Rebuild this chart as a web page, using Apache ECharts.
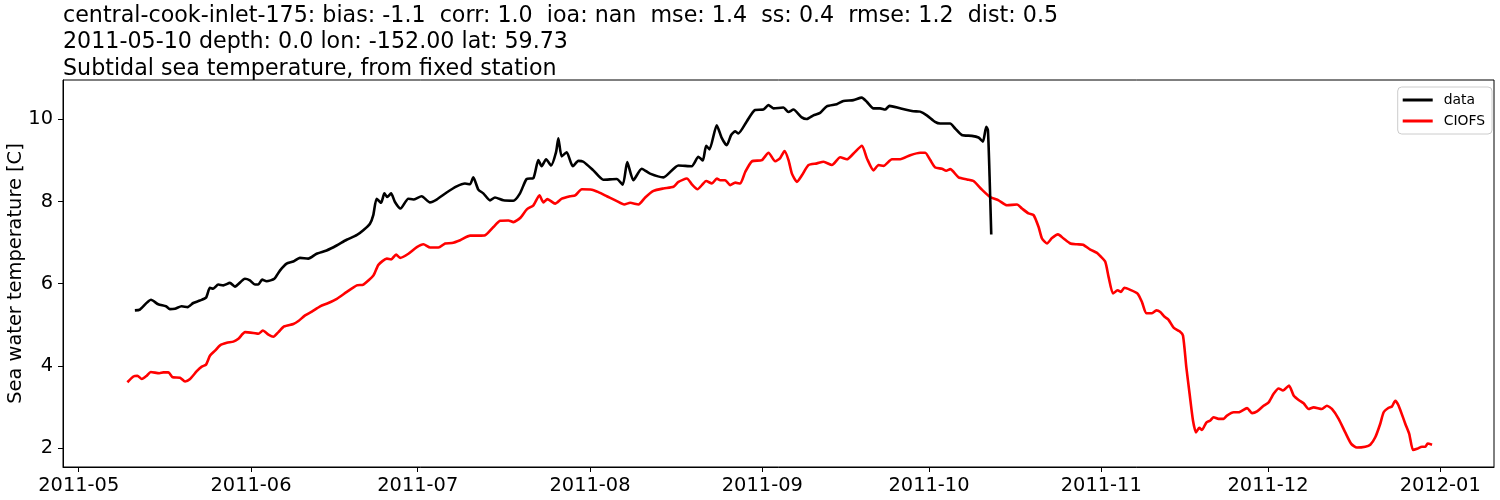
<!DOCTYPE html>
<html>
<head>
<meta charset="utf-8">
<script src="https://cdn.jsdelivr.net/npm/echarts@6/dist/echarts.min.js"></script>
<style>
  html, body { margin: 0; padding: 0; background: #fff; }
  #chart { width: 1500px; height: 500px; }
</style>
</head>
<body>
<div id="chart"></div>
<script>
// ---- Data (days since 2011-05-01 UTC, temperature in °C) ----
const baseDate = '2011-05-01';

const dataDays = [10.1, 11.0, 13.0, 14.3, 15.7, 16.4, 17.3, 18.5, 19.6, 20.6, 21.8, 22.9, 23.6, 24.2, 25.1, 26.0, 27.2, 28.1, 29.9, 30.8,
  31.7, 32.3, 33.0, 33.8, 35.2, 36.2, 37.4, 38.6, 39.8, 41.3, 42.8, 44.6, 46.4, 48.2, 50.0, 51.2, 52.4, 53.0, 53.6, 54.4,
  55.0, 55.5, 56.2, 56.9, 57.9, 59.3, 60.2, 61.7, 63.2, 64.4, 66.2, 68.0, 69.5, 70.4, 71.0, 71.9, 72.8, 74.0, 74.9, 76.4,
  78.2, 79.4, 80.6, 81.8, 82.7, 83.3, 84.1, 85.0, 85.9, 86.3, 86.9, 87.8, 88.9, 89.9, 90.8, 92.6, 94.4, 96.8, 97.9, 98.7,
  99.8, 101.3, 102.8, 105.2, 107.9, 110.3, 111.5, 112.3, 112.9, 113.5, 114.8, 115.7, 116.6, 117.4, 118.1, 118.7, 120.2, 121.7, 123.2, 124.1,
  125.0, 126.8, 127.7, 128.6, 130.1, 131.0, 132.2, 133.4, 134.6, 136.4, 137.6, 139.4, 140.9, 141.8, 143.0, 144.2, 145.1, 145.9, 147.8, 150.2,
  151.4, 152.6, 154.1, 155.0, 156.8, 157.7, 158.9, 160.7, 161.9, 162.7, 163.3, 163.6, 163.9, 164.2];
const dataTemp = [5.35, 5.37, 5.61, 5.50, 5.45, 5.38, 5.39, 5.45, 5.43, 5.53, 5.59, 5.66, 5.90, 5.88, 5.98, 5.96, 6.02, 5.93, 6.12, 6.08,
  5.98, 5.98, 6.10, 6.06, 6.12, 6.32, 6.49, 6.54, 6.63, 6.61, 6.73, 6.81, 6.93, 7.07, 7.18, 7.30, 7.46, 7.67, 8.07, 7.97,
  8.20, 8.11, 8.20, 7.99, 7.83, 8.07, 8.05, 8.13, 7.98, 8.05, 8.22, 8.37, 8.44, 8.42, 8.59, 8.29, 8.20, 8.03, 8.10, 8.03,
  8.02, 8.20, 8.55, 8.57, 9.01, 8.86, 9.03, 8.88, 9.21, 9.54, 9.10, 9.20, 8.86, 8.99, 8.97, 8.76, 8.53, 8.55, 8.41, 8.96,
  8.52, 8.80, 8.68, 8.59, 8.88, 8.86, 9.09, 9.00, 9.36, 9.27, 9.86, 9.55, 9.37, 9.62, 9.71, 9.66, 9.95, 10.23, 10.24, 10.35,
  10.27, 10.29, 10.18, 10.24, 10.05, 10.01, 10.10, 10.16, 10.32, 10.37, 10.45, 10.47, 10.53, 10.43, 10.27, 10.27, 10.24, 10.33, 10.27, 10.20,
  10.19, 10.10, 9.94, 9.90, 9.90, 9.78, 9.62, 9.60, 9.56, 9.46, 9.82, 9.74, 8.61, 7.20];

const modelDays = [8.75, 9.83, 10.55, 11.34, 12.24, 12.96, 14.51, 15.23, 16.13, 16.92, 18.23, 19.13, 20.03, 21.24, 22.14, 22.91, 23.63, 24.53, 25.43, 26.64,
  27.83, 28.73, 29.93, 31.43, 32.33, 33.12, 34.13, 35.03, 35.93, 36.95, 38.63, 39.53, 40.73, 41.94, 43.43, 44.92, 46.44, 48.24, 50.04, 51.22,
  53.02, 53.92, 55.44, 56.21, 57.11, 57.83, 59.32, 60.84, 62.02, 63.23, 64.72, 65.93, 67.13, 68.63, 70.43, 71.92, 73.13, 74.62, 75.83, 77.32,
  78.22, 79.43, 80.63, 81.82, 82.90, 83.62, 84.34, 85.73, 86.93, 88.43, 89.33, 90.53, 92.33, 93.52, 95.03, 96.83, 98.15, 99.23, 100.72, 101.93,
  103.42, 105.22, 107.02, 107.92, 109.43, 110.33, 111.34, 112.13, 112.90, 113.93, 114.83, 115.43, 116.33, 117.23, 118.13, 119.03, 119.93, 121.13, 122.93, 124.12,
  125.32, 126.22, 127.00, 127.72, 128.33, 129.23, 130.13, 131.32, 132.83, 134.02, 135.53, 137.02, 138.23, 139.42, 140.93, 141.83, 143.02, 143.92, 144.82, 146.33,
  147.82, 149.62, 151.42, 152.32, 153.23, 154.12, 155.33, 156.10, 156.82, 158.32, 159.83, 161.02, 162.53, 164.02, 165.52, 167.03, 168.83, 169.73, 170.92, 171.82,
  172.72, 173.33, 174.23, 175.13, 176.21, 177.22, 178.43, 179.63, 180.71, 182.03, 183.23, 183.83, 184.73, 185.32, 186.11, 186.94, 187.55, 188.14, 189.22, 190.53,
  191.33, 192.10, 193.13, 193.90, 194.62, 195.34, 196.11, 197.01, 198.09, 198.70, 199.30, 199.89, 200.50, 201.04, 201.64, 202.12, 202.90, 203.62, 204.21, 205.11,
  206.01, 206.62, 207.82, 208.72, 210.23, 211.13, 212.03, 213.21, 214.11, 215.01, 215.91, 216.70, 217.78, 218.61, 219.51, 220.41, 221.31, 222.21, 223.70, 224.60,
  225.50, 226.71, 227.90, 228.98, 230.00, 231.50, 232.40, 233.30, 234.20, 234.81, 235.71, 236.30, 236.90, 237.51, 238.70, 239.42, 240.10, 240.82, 241.72, 242.31,
  242.73, 243.52];
const modelTemp = [3.60, 3.74, 3.76, 3.68, 3.76, 3.85, 3.82, 3.84, 3.84, 3.72, 3.71, 3.62, 3.68, 3.87, 3.98, 4.03, 4.25, 4.37, 4.50, 4.56,
  4.59, 4.66, 4.82, 4.80, 4.78, 4.86, 4.76, 4.71, 4.82, 4.96, 5.02, 5.09, 5.23, 5.32, 5.45, 5.53, 5.63, 5.80, 5.96, 5.98,
  6.20, 6.46, 6.61, 6.59, 6.71, 6.63, 6.73, 6.89, 6.96, 6.88, 6.88, 6.98, 6.99, 7.06, 7.17, 7.17, 7.18, 7.38, 7.53, 7.54,
  7.50, 7.60, 7.81, 7.91, 8.15, 7.98, 8.06, 7.95, 8.07, 8.13, 8.15, 8.30, 8.29, 8.23, 8.13, 8.01, 7.93, 7.97, 7.93, 8.10,
  8.26, 8.32, 8.36, 8.48, 8.56, 8.42, 8.30, 8.40, 8.50, 8.44, 8.56, 8.52, 8.52, 8.40, 8.46, 8.44, 8.72, 8.98, 9.01, 9.19,
  8.98, 9.06, 9.23, 9.01, 8.68, 8.48, 8.64, 8.89, 8.93, 8.97, 8.89, 9.08, 9.03, 9.17, 9.36, 9.05, 8.76, 8.89, 8.87, 9.03,
  9.03, 9.13, 9.19, 9.19, 9.01, 8.83, 8.80, 8.75, 8.79, 8.59, 8.54, 8.50, 8.29, 8.11, 8.03, 7.91, 7.93, 7.83, 7.71, 7.67,
  7.38, 7.10, 6.98, 7.11, 7.20, 7.10, 6.98, 6.96, 6.95, 6.83, 6.75, 6.67, 6.53, 6.16, 5.76, 5.84, 5.80, 5.90, 5.85, 5.76,
  5.55, 5.28, 5.28, 5.35, 5.31, 5.20, 5.12, 4.93, 4.84, 4.74, 3.97, 3.32, 2.67, 2.38, 2.49, 2.44, 2.62, 2.67, 2.75, 2.71,
  2.71, 2.79, 2.87, 2.87, 2.97, 2.85, 2.89, 3.03, 3.11, 3.32, 3.45, 3.40, 3.52, 3.28, 3.17, 3.09, 2.95, 2.99, 2.95, 3.03,
  2.95, 2.71, 2.38, 2.10, 2.01, 2.03, 2.08, 2.26, 2.59, 2.87, 2.98, 3.01, 3.15, 3.03, 2.59, 2.34, 1.95, 1.98, 2.03, 2.03,
  2.11, 2.08];

const xTickLabels = ['2011-05', '2011-06', '2011-07', '2011-08', '2011-09', '2011-10', '2011-11', '2011-12', '2012-01'];
const yTickValues = [2, 4, 6, 8, 10];
const xRange = ['2011-04-28T04:00:00Z', '2012-01-10T16:00:00Z'];
const yRange = [1.537, 10.96];

const titleLines = [
  'central-cook-inlet-175: bias: -1.1  corr: 1.0  ioa: nan  mse: 1.4  ss: 0.4  rmse: 1.2  dist: 0.5',
  '2011-05-10 depth: 0.0 lon: -152.00 lat: 59.73',
  'Subtidal sea temperature, from fixed station'
];
const yAxisTitle = 'Sea water temperature [C]';
const seriesNames = ['data', 'CIOFS'];

// ---- Build ----
const DAY = 86400000;
const base = Date.parse(baseDate + 'T00:00:00Z');
const toPairs = (days, vals) => days.map((d, i) => [base + d * DAY, vals[i]]);
const monthTicks = xTickLabels.map(s => Date.parse(s + '-01T00:00:00Z'));
const labelFor = {};
monthTicks.forEach((t, i) => { labelFor[t] = xTickLabels[i]; });

const FONT = 'DejaVu Sans';
const chart = echarts.init(document.getElementById('chart'), null, { renderer: 'canvas' });
chart.setOption({
  animation: false,
  backgroundColor: '#ffffff',
  title: {
    text: titleLines.join('\n'),
    left: 63, top: 2.5, padding: 0,
    textStyle: { fontFamily: FONT, fontSize: 22.2, fontWeight: 'normal', color: '#000', lineHeight: 26.5 }
  },
  legend: {
    orient: 'vertical', right: 8, top: 87, padding: [6, 7, 6, 5],
    itemWidth: 30, itemHeight: 3, itemGap: 7, icon: 'rect',
    backgroundColor: 'rgba(255,255,255,0.8)', borderColor: '#cccccc', borderWidth: 1, borderRadius: 4,
    textStyle: { fontFamily: FONT, fontSize: 13.9, color: '#000', padding: [0, 0, 0, 6] },
    data: seriesNames
  },
  grid: { left: 63, right: 6, top: 80, bottom: 33, show: true, borderColor: '#000', borderWidth: 1,
          containLabel: false, outerBoundsMode: 'none' },
  xAxis: {
    type: 'value',
    min: Date.parse(xRange[0]), max: Date.parse(xRange[1]),
    axisLine: { show: true, lineStyle: { color: '#000', width: 1 } },
    axisTick: { show: true, inside: false, length: 5, lineStyle: { color: '#000' }, customValues: monthTicks },
    axisLabel: {
      show: true, margin: 9, color: '#000', fontFamily: FONT, fontSize: 19.4,
      customValues: monthTicks,
      formatter: v => labelFor[v] !== undefined ? labelFor[v] : ''
    },
    splitLine: { show: false }
  },
  yAxis: {
    type: 'value',
    min: yRange[0], max: yRange[1],
    name: yAxisTitle, nameLocation: 'middle', nameRotate: 90, nameGap: 38, nameMoveOverlap: false,
    nameTextStyle: { fontFamily: FONT, fontSize: 19.4, color: '#000' },
    axisLine: { show: true, lineStyle: { color: '#000', width: 1 } },
    axisTick: { show: true, inside: false, length: 5, lineStyle: { color: '#000' }, customValues: yTickValues },
    axisLabel: { show: true, margin: 10, color: '#000', fontFamily: FONT, fontSize: 19.4, customValues: yTickValues },
    splitLine: { show: false }
  },
  series: [
    {
      name: seriesNames[0], type: 'line', data: toPairs(dataDays, dataTemp),
      showSymbol: false, symbol: 'none', smooth: 0.2, z: 3,
      itemStyle: { color: '#000000' },
      lineStyle: { color: '#000000', width: 2.6 }
    },
    {
      name: seriesNames[1], type: 'line', data: toPairs(modelDays, modelTemp),
      showSymbol: false, symbol: 'none', smooth: 0.2, z: 2,
      itemStyle: { color: '#ff0000' },
      lineStyle: { color: '#ff0000', width: 2.6 }
    }
  ]
});
</script>
</body>
</html>
